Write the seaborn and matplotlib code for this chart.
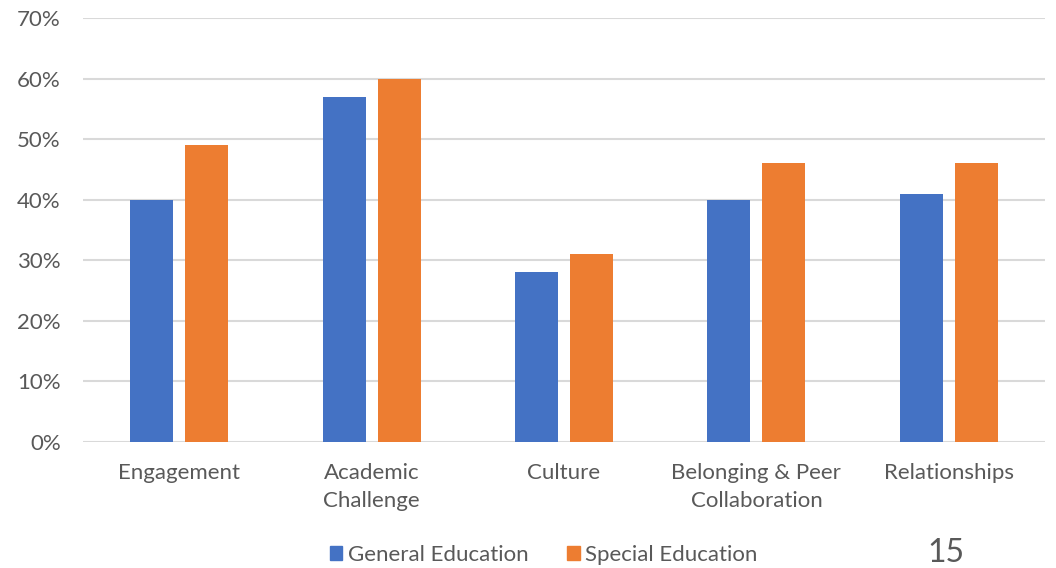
import pandas as pd
import seaborn as sns
from matplotlib import pyplot as plt
from matplotlib.ticker import PercentFormatter, MultipleLocator

categories = ['Engagement', 'Academic\nChallenge', 'Culture',
              'Belonging & Peer\nCollaboration', 'Relationships']
general_ed = [40, 57, 28, 40, 41]
special_ed = [49, 60, 31, 46, 46]
series_names = ['General Education', 'Special Education']

df = pd.DataFrame({
    'category': categories * 2,
    'group': [series_names[0]] * 5 + [series_names[1]] * 5,
    'value': general_ed + special_ed,
})

sns.set_style('white')
plt.rcParams['font.family'] = ['Lato', 'DejaVu Sans']
text_col = '#595959'
colors = ['#4472C4', '#ED7D31']

fig = plt.figure(figsize=(10.56, 5.68), dpi=100)
ax = fig.add_axes([0.0786, 0.2218, 0.911, 0.7462])

sns.barplot(data=df, x='category', y='value', hue='group',
            palette=colors, width=0.572, gap=0.218, linewidth=0,
            saturation=1, ax=ax, legend=False)

ax.set_ylim(0, 70)
ax.set_xlim(-0.5, 4.5)
ax.yaxis.set_major_locator(MultipleLocator(10))
ax.yaxis.set_major_formatter(PercentFormatter(decimals=0))
ax.grid(axis='y', color='#d9d9d9', linewidth=1.5)
ax.set_axisbelow(True)
for s in ax.spines.values():
    s.set_visible(False)
ax.tick_params(axis='both', length=0, labelsize=16, labelcolor=text_col)
ax.tick_params(axis='x', pad=15)
ax.tick_params(axis='y', pad=16)
for lbl in ax.get_xticklabels():
    lbl.set_linespacing(1.5)
ax.set_xlabel('')
ax.set_ylabel('')

handles = [plt.Rectangle((0, 0), 1, 1, color=c) for c in colors]
fig.legend(handles, series_names, loc='center', bbox_to_anchor=(0.515, 0.023),
           ncol=2, frameon=False, fontsize=16, labelcolor=text_col,
           handlelength=0.55, handleheight=0.55, handletextpad=0.25, columnspacing=1.75)

fig.text(0.896, 0.026, '15', fontsize=23, color=text_col, ha='center', va='center')

fig.savefig('out.png', dpi=100)
